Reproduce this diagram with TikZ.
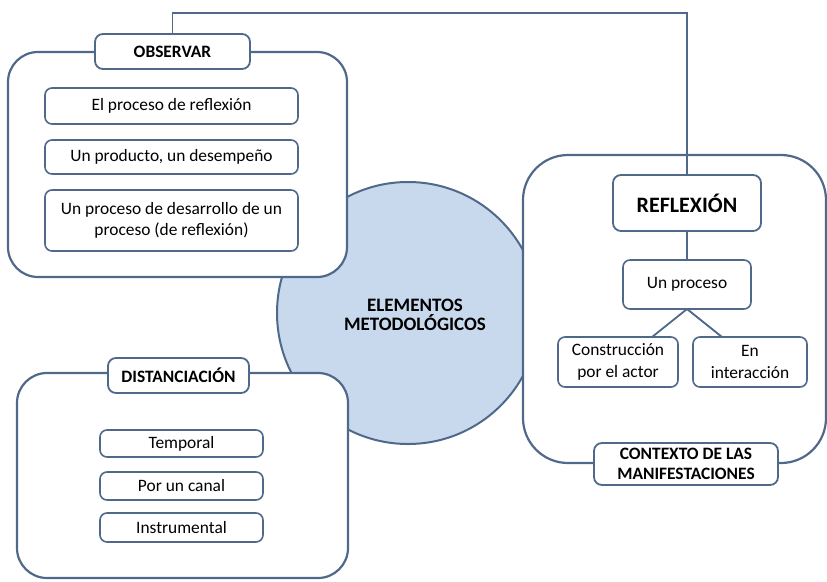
\documentclass[tikz,border=0pt]{standalone}
\usepackage{fontspec}
\setmainfont{Carlito}
\usetikzlibrary{calc}
\definecolor{lc}{HTML}{50698A}
\definecolor{cfill}{HTML}{C8D9ED}
\tikzset{
  frame/.style={draw=lc, line width=2.2pt, fill=white, inner sep=0pt, outer sep=0pt},
  tagbox/.style={draw=lc, line width=1.8pt, fill=white, rounded corners=8pt, inner sep=0pt, outer sep=0pt, align=center, font=\fontsize{17.4}{20.5}\selectfont\bfseries},
  itembox/.style={draw=lc, line width=1.6pt, fill=white, rounded corners=7pt, inner sep=0pt, outer sep=0pt, align=center, font=\fontsize{17.4}{21.5}\selectfont},
  conn/.style={draw=lc, line width=1.8pt}
}
\begin{document}
\begin{tikzpicture}[x=1pt,y=-1pt]
\useasboundingbox (0,0) rectangle (827,581);
% central circle
\node[draw=lc, line width=2pt, fill=cfill, circle, minimum size=262pt, inner sep=0pt] (center) at (408,313) {};
% frames
\node[frame, rounded corners=30pt, minimum width=339pt, minimum height=225pt] (obsf) at (177.5,164.5) {};
\node[frame, rounded corners=30pt, minimum width=331pt, minimum height=205pt] (disf) at (182.5,475.5) {};
\node[frame, rounded corners=45pt, minimum width=303pt, minimum height=308pt] (reff) at (674.5,309) {};
% center text on top
\node[align=center, font=\fontsize{19}{18.5}\selectfont\bfseries] (ctext) at (415,315) {ELEMENTOS\\METODOLÓGICOS};
% OBSERVAR
\node[tagbox, minimum width=155pt, minimum height=35pt] (obs) at (172.5,51.5) {OBSERVAR};
\node[itembox, minimum width=253pt, minimum height=36pt] (o1) at (171.5,106) {El proceso de reflexión};
\node[itembox, minimum width=253pt, minimum height=34pt] (o2) at (171.5,157) {Un producto, un desempeño};
\node[itembox, minimum width=253pt, minimum height=61pt] (o3) at (171.5,220.5) {Un proceso de desarrollo de un\\proceso (de reflexión)};
% DISTANCIACION
\node[tagbox, minimum width=141pt, minimum height=35pt] (dis) at (178.5,375.5) {DISTANCIACIÓN};
\node[itembox, minimum width=163pt, minimum height=27pt] (d1) at (181.5,443.5) {Temporal};
\node[itembox, minimum width=163pt, minimum height=28pt] (d2) at (181.5,486) {Por un canal};
\node[itembox, minimum width=163pt, minimum height=29pt] (d3) at (181.5,527.5) {Instrumental};
% REFLEXION
\node[tagbox, minimum width=148pt, minimum height=56pt, font=\fontsize{22}{26}\selectfont\bfseries] (refl) at (687,203) {REFLEXIÓN};
\node[itembox, minimum width=128pt, minimum height=49pt] (proc) at (687,284.5) {Un proceso};
\node[itembox, minimum width=120pt, minimum height=50pt] (con) at (618,362) {Construcción\\por el actor};
\node[itembox, minimum width=114pt, minimum height=50pt] (en) at (750,362) {En\\interacción};
\node[tagbox, minimum width=184pt, minimum height=42pt] (ctx) at (686,464) {CONTEXTO DE LAS\\MANIFESTACIONES};
% connectors
\coordinate (topline) at (430,13);
\draw[conn] (obs.north) |- (topline) -| (refl.north);
\draw[conn] (refl.south) -- (proc.north);
\draw[conn] (proc.south) -- ($(con.north east)+(-26,0)$);
\draw[conn] (proc.south) -- ($(en.north west)+(29,0)$);
\end{tikzpicture}
\end{document}
